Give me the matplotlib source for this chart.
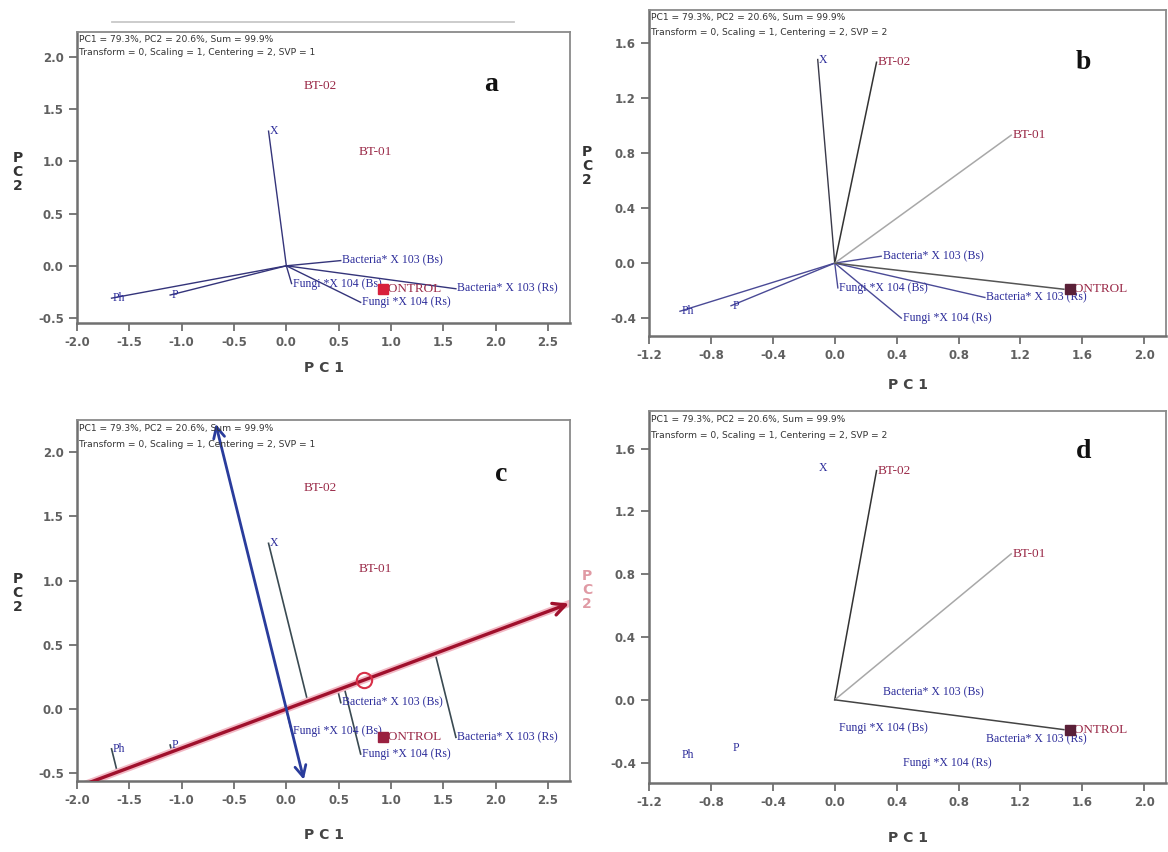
import numpy as np
import matplotlib.pyplot as plt
from matplotlib.patches import FancyArrowPatch
from matplotlib.lines import Line2D

# point names
traits = ['X', 'Ph', 'P', 'Bacteria* X 103 (Bs)', 'Fungi *X 104 (Bs)',
          'Bacteria* X 103 (Rs)', 'Fungi *X 104 (Rs)']
genotypes = ['BT-02', 'BT-01', 'CONTROL']

# SVP = 1 scores (panels a and c)
trait_pc1_svp1 = [-0.17, -1.67, -1.11, 0.52, 0.05, 1.62, 0.71]
trait_pc2_svp1 = [1.29, -0.31, -0.28, 0.05, -0.17, -0.22, -0.35]
geno_pc1_svp1 = [0.15, 0.68, 0.88]
geno_pc2_svp1 = [1.72, 1.09, -0.22]

# SVP = 2 scores (panels b and d)
trait_pc1_svp2 = [-0.11, -1.00, -0.67, 0.30, 0.02, 0.97, 0.43]
trait_pc2_svp2 = [1.48, -0.35, -0.31, 0.05, -0.18, -0.25, -0.40]
geno_pc1_svp2 = [0.27, 1.14, 1.48]
geno_pc2_svp2 = [1.46, 0.93, -0.19]

# average environment coordinate (panel c)
avg_env = [0.74, 0.225]

header1 = 'PC1 = 79.3%, PC2 = 20.6%, Sum = 99.9%'
header2 = 'Transform = 0, Scaling = 1, Centering = 2, SVP = {}'

TRAIT_COL = '#2c2c9a'
GENO_COL = '#9a2a48'
TICK_COL = '#606060'

W, H = 1168, 852
fig = plt.figure(figsize=(W / 100, H / 100), dpi=100)


def px_axes(l, t, r, b):
    return fig.add_axes([l / W, 1 - b / H, (r - l) / W, (b - t) / H])


def style_axes(ax, xlim, ylim, xticks, yticks, svp, letter, letter_pos, ylab_col='#333333'):
    ax.set_xlim(*xlim)
    ax.set_ylim(*ylim)
    ax.set_xticks(xticks)
    ax.set_yticks(yticks)
    ax.set_xticklabels(['%.1f' % v for v in xticks])
    ax.set_yticklabels(['%.1f' % v for v in yticks])
    for s in ['left', 'bottom']:
        ax.spines[s].set_color('#707070')
        ax.spines[s].set_linewidth(1.8)
    for s in ['top', 'right']:
        ax.spines[s].set_color('#8a8a8a')
        ax.spines[s].set_linewidth(1.3)
    ax.tick_params(direction='out', length=6, width=1.3, color='#707070',
                   labelsize=8.5, labelcolor=TICK_COL, top=False, right=False)
    for lab in ax.get_xticklabels() + ax.get_yticklabels():
        lab.set_fontweight('bold')
    ax.set_xlabel('P C 1', fontsize=10, fontweight='bold', color='#444444')
    ax.xaxis.set_label_coords(0.5, -0.13)
    ax.set_ylabel('P\nC\n2', fontsize=10, fontweight='bold', color=ylab_col,
                  rotation=0, va='center', ha='center', linespacing=1.0)
    ax.yaxis.set_label_coords(-0.12, 0.52)
    ax.text(0.004, 0.99, header1, transform=ax.transAxes, fontsize=6.6,
            color='#333333', va='top', ha='left')
    ax.text(0.004, 0.945, header2.format(svp), transform=ax.transAxes, fontsize=6.6,
            color='#333333', va='top', ha='left')
    ax.text(letter_pos[0], letter_pos[1], letter, transform=ax.transAxes,
            fontsize=20, fontweight='bold', family='Liberation Serif',
            ha='center', va='center', color='#111111')


def put_labels(ax, tx, ty, gx, gy, ctrl_col):
    for name, x, y in zip(traits, tx, ty):
        ax.annotate(name, (x, y), xytext=(1, 0), textcoords='offset points',
                    ha='left', va='center', fontsize=8.5, color=TRAIT_COL,
                    family='Liberation Serif')
    for name, x, y in zip(genotypes, gx, gy):
        ax.annotate(name, (x, y), xytext=(1, 0), textcoords='offset points',
                    ha='left', va='center', fontsize=9.5, color=GENO_COL,
                    family='Liberation Serif')
    ax.plot(gx[2] + 0.04, gy[2], marker='s', ms=7, color=ctrl_col, zorder=4)


ticks_a = np.arange(-2.0, 2.51, 0.5)
yt_a = np.arange(-0.5, 2.01, 0.5)
ticks_b = np.arange(-1.2, 2.01, 0.4)
yt_b = np.arange(-0.4, 1.61, 0.4)

# ---- panel a
ax_a = px_axes(77, 32, 570, 323)
for x, y in zip(trait_pc1_svp1, trait_pc2_svp1):
    ax_a.plot([0, x], [0, y], color='#34347a', lw=1.0)
put_labels(ax_a, trait_pc1_svp1, trait_pc2_svp1, geno_pc1_svp1, geno_pc2_svp1, '#d8203c')
style_axes(ax_a, (-2.0, 2.71), (-0.548, 2.24), ticks_a, yt_a, 1, 'a', (0.84, 0.82))

# ---- panel b
ax_b = px_axes(649, 10, 1166, 336)
trait_line_b = ['#3a3a4a'] + ['#4a4a96'] * 6
for x, y, c in zip(trait_pc1_svp2, trait_pc2_svp2, trait_line_b):
    ax_b.plot([0, x], [0, y], color=c, lw=1.0)
for x, y, c in zip(geno_pc1_svp2, geno_pc2_svp2, ['#333333', '#a8a8a8', '#555555']):
    ax_b.plot([0, x], [0, y], color=c, lw=1.1)
put_labels(ax_b, trait_pc1_svp2, trait_pc2_svp2, geno_pc1_svp2, geno_pc2_svp2, '#5a2038')
style_axes(ax_b, (-1.2, 2.14), (-0.53, 1.84), ticks_b, yt_b, 2, 'b', (0.84, 0.84))

# ---- panel c
ax_c = px_axes(77, 420, 570, 781)
u = np.array(avg_env) / np.hypot(*avg_env)
perp = np.array([-u[1], u[0]])
for x, y in zip(trait_pc1_svp1, trait_pc2_svp1):
    p = np.array([x, y])
    q = p.dot(u) * u
    ax_c.plot([p[0], q[0]], [p[1], q[1]], color='#3a4a52', lw=1.2)
# average environment axis (red)
t0, t1 = -2.1 / u[0], 2.70 / u[0]
ax_c.plot([t0 * u[0], t1 * u[0]], [t0 * u[1], t1 * u[1]], color='#f2b8c4', lw=5, zorder=2)
ax_c.add_patch(FancyArrowPatch((t0 * u[0], t0 * u[1]), (t1 * u[0], t1 * u[1]),
                               arrowstyle='->', mutation_scale=22, lw=2.4,
                               color='#a0102c', shrinkA=0, shrinkB=0, zorder=3))
# perpendicular axis (blue)
s0, s1 = -0.55 / perp[1], 2.22 / perp[1]
ax_c.add_patch(FancyArrowPatch((s1 * perp[0], s1 * perp[1]), (s0 * perp[0], s0 * perp[1]),
                               arrowstyle='<->', mutation_scale=20, lw=2.0,
                               color='#2a3c9c', shrinkA=0, shrinkB=0, zorder=3))
ax_c.plot(avg_env[0], avg_env[1], marker='o', ms=11, mfc='none', mec='#d83048',
          mew=1.5, zorder=4)
put_labels(ax_c, trait_pc1_svp1, trait_pc2_svp1, geno_pc1_svp1, geno_pc2_svp1, '#9a2040')
style_axes(ax_c, (-2.0, 2.71), (-0.56, 2.25), ticks_a, yt_a, 1, 'c', (0.86, 0.85))

# ---- panel d
ax_d = px_axes(649, 411, 1166, 783)
for x, y, c in zip(geno_pc1_svp2, geno_pc2_svp2, ['#333333', '#a8a8a8', '#444444']):
    ax_d.plot([0, x], [0, y], color=c, lw=1.1)
put_labels(ax_d, trait_pc1_svp2, trait_pc2_svp2, geno_pc1_svp2, geno_pc2_svp2, '#5a2038')
style_axes(ax_d, (-1.2, 2.14), (-0.53, 1.84), ticks_b, yt_b, 2, 'd', (0.84, 0.89),
           ylab_col='#e09aa4')

# faint rule above panel a
fig.add_artist(Line2D([112 / W, 514 / W], [1 - 22 / H, 1 - 22 / H],
                      color='#c8c8c8', lw=1.3))

fig.savefig('out.png', dpi=100)
